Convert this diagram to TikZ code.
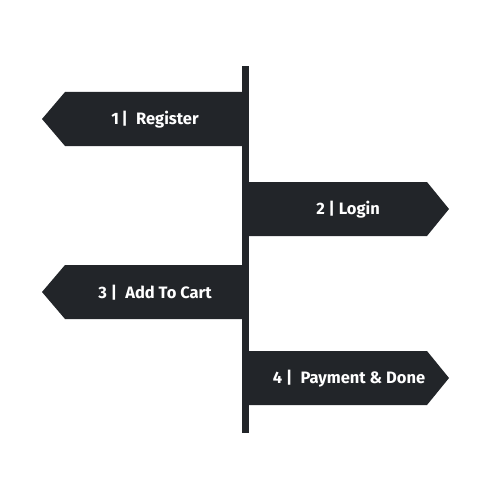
\documentclass[tikz,border=0pt]{standalone}
\usepackage{fontspec}
\setmainfont{Fira Sans}
\definecolor{signdark}{HTML}{222529}
\begin{document}
\begin{tikzpicture}[x=1pt,y=-1pt,
  sign/.style={fill=signdark,draw=none},
  signtext/.style={text=white,font=\fontsize{16.5}{18}\selectfont\bfseries,inner sep=0pt,anchor=center}]
\fill[white] (0,0) rectangle (500,500);
\useasboundingbox (0,0) rectangle (500,500);
% pole
\fill[signdark] (242,66) rectangle (249,433);
% sign 1 (left)
\fill[sign] (242,92) -- (65,92) -- (42,119) -- (65,146) -- (242,146) -- cycle;
% sign 2 (right)
\fill[sign] (249,182) -- (427,182) -- (449,209) -- (427,236) -- (249,236) -- cycle;
% sign 3 (left)
\fill[sign] (242,265) -- (65,265) -- (42,292) -- (65,319) -- (242,319) -- cycle;
% sign 4 (right)
\fill[sign] (249,351) -- (427,351) -- (449,378) -- (427,405) -- (249,405) -- cycle;
\node[signtext] (t1) at (155,120) {1\,|\enspace Register};
\node[signtext] (t2) at (348,210) {2 | Login};
\node[signtext] (t3) at (155,293) {3 |\enspace Add To Cart};
\node[signtext] (t4) at (349,379) {4 |\enspace Payment \& Done};
\end{tikzpicture}
\end{document}
